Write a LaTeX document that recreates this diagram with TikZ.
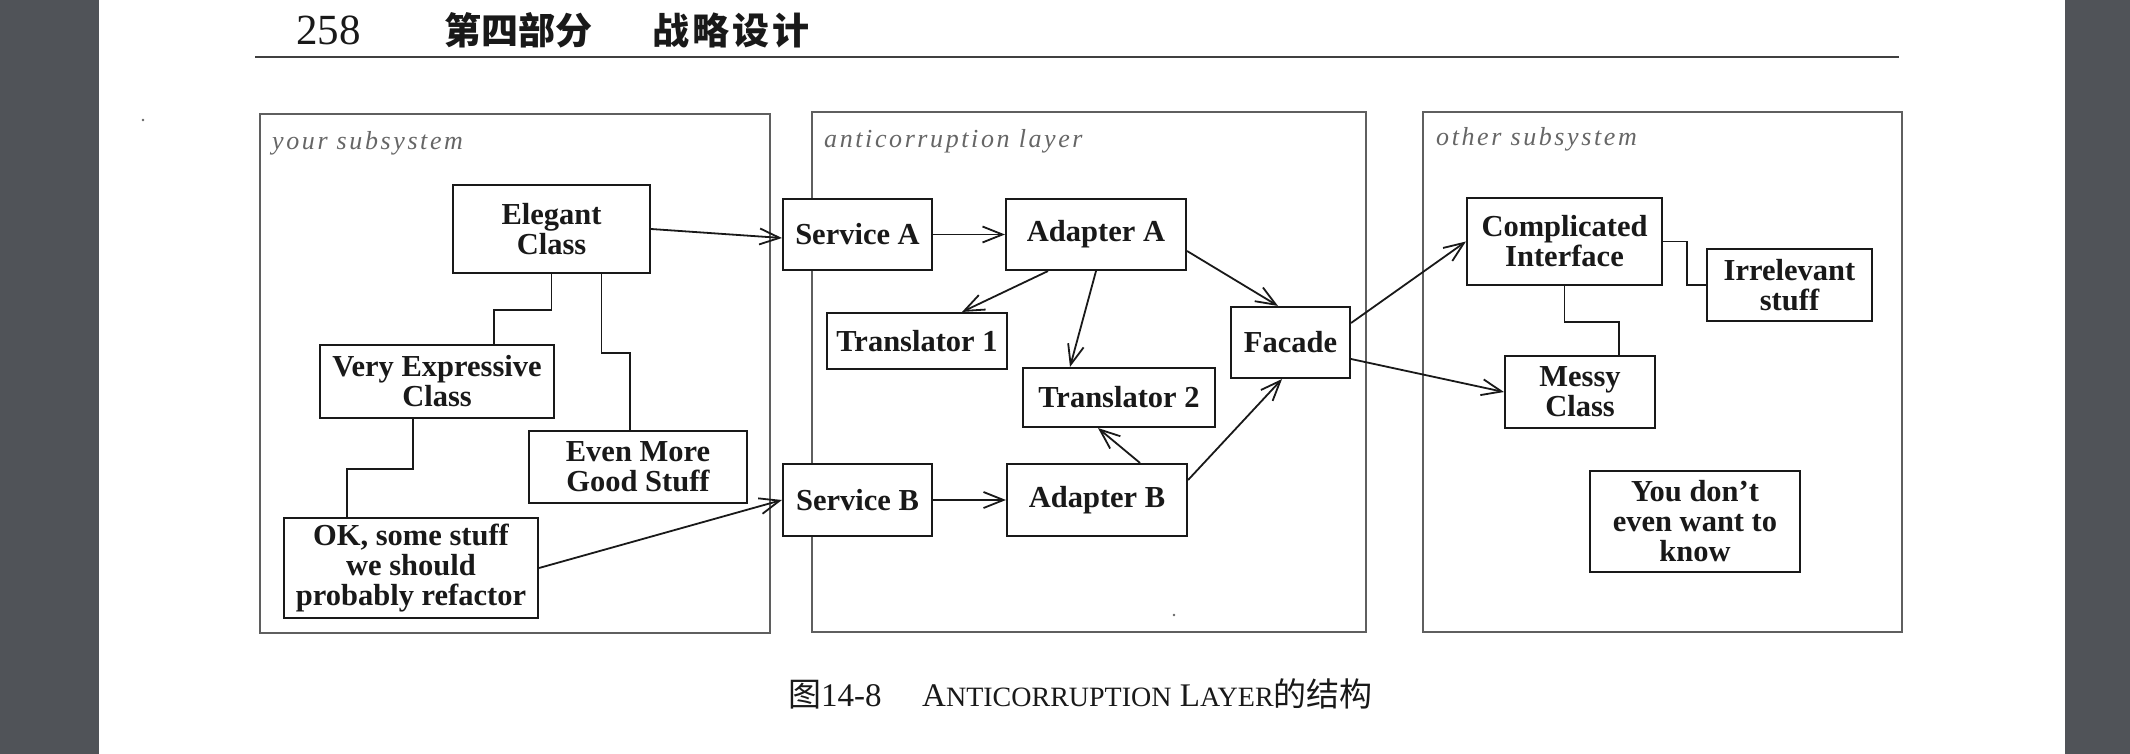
\documentclass[tikz,border=0pt]{standalone}
\usepackage{fontspec}
\setmainfont{Liberation Serif}
\newfontfamily\cjk{Noto Sans CJK SC}
\newfontfamily\lblfont[LetterSpace=10]{Liberation Serif}
\usetikzlibrary{arrows.meta}
\definecolor{pagegray}{RGB}{80,83,88}
\definecolor{ink}{RGB}{25,25,25}
\definecolor{framec}{RGB}{95,95,95}
\begin{document}
\begin{tikzpicture}[x=1pt,y=-1pt,
  box/.style={draw=ink, line width=2.1pt, fill=white, align=center, inner sep=0pt,
    font=\bfseries\fontsize{30.5}{30}\selectfont, text=ink},
  conn/.style={draw=ink, line width=1.8pt},
  arr/.style={conn, -{Straight Barb[length=20pt,width=16pt]}},
  container/.style={draw=framec, line width=2.4pt},
  lbl/.style={anchor=base west, inner sep=0pt, font=\lblfont\itshape\fontsize{26}{26}\selectfont, text=black!60},
  plain/.style={anchor=base west, inner sep=0pt, text=ink},
]
\useasboundingbox (0,0) rectangle (2130,754);
\fill[white] (0,0) rectangle (2130,754);
\fill[pagegray] (0,0) rectangle (99,754);
\fill[pagegray] (2065,0) rectangle (2130,754);

% header
\node[plain, font=\fontsize{43}{43}\selectfont] (pnum) at (296,45) {258};
\node[plain, font=\cjk\bfseries\fontsize{37}{37}\selectfont] (part) at (444,45) {第四部分};
\node[plain, font=\cjk\bfseries\fontsize{37}{37}\selectfont] (chap) at (652,45) {战\hspace{3pt}略\hspace{3pt}设\hspace{3pt}计};
\draw[line width=2.6pt, black!75] (255,57) -- (1899,57);

% containers
\draw[container] (260,114) rectangle (770,633);
\draw[container] (812,112) rectangle (1366,632);
\draw[container] (1423,112) rectangle (1902,632);
\node[lbl] (lyour) at (272,150) {your subsystem};
\node[lbl] (lanti) at (824,148) {anticorruption layer};
\node[lbl] (lother) at (1436,146) {other subsystem};

% specks
\fill[black!60] (143,120) circle (1.3);
\fill[black!60] (1174,615) circle (1.3);

% left subsystem
\node[box, minimum width=197pt, minimum height=88pt] (elegant) at (551.5,229) {Elegant\\Class};
\node[box, minimum width=234pt, minimum height=73pt] (vec) at (437,381.5) {Very Expressive\\Class};
\node[box, minimum width=218pt, minimum height=72pt] (emgs) at (638,467) {Even More\\Good Stuff};
\node[box, minimum width=254pt, minimum height=100pt] (ok) at (411,568) {OK, some stuff\\we should\\probably refactor};

% anticorruption layer
\node[box, minimum width=149pt, minimum height=71pt] (servA) at (857.5,234.5) {Service A};
\node[box, minimum width=180pt, minimum height=71pt] (adaA) at (1096,234.5) {Adapter A};
\node[box, minimum width=180pt, minimum height=56pt] (tr1) at (917,341) {Translator 1};
\node[box, minimum width=192pt, minimum height=59pt] (tr2) at (1119,397.5) {Translator 2};
\node[box, minimum width=119pt, minimum height=71pt] (facade) at (1290.5,342.5) {Facade};
\node[box, minimum width=149pt, minimum height=72pt] (servB) at (857.5,500) {Service B};
\node[box, minimum width=180pt, minimum height=72pt] (adaB) at (1097,500) {Adapter B};

% other subsystem
\node[box, minimum width=195pt, minimum height=87pt] (compl) at (1564.5,241.5) {Complicated\\Interface};
\node[box, minimum width=165pt, minimum height=72pt] (irr) at (1789.5,285) {Irrelevant\\stuff};
\node[box, minimum width=150pt, minimum height=72pt] (messy) at (1580,392) {Messy\\Class};
\node[box, minimum width=210pt, minimum height=101pt] (ydk) at (1695,521.5) {You don’t\\even want to\\know};

% associations
\draw[conn] (elegant.south) -- ++(0,36) -| ([xshift=57pt]vec.north);
\draw[conn] ([xshift=50pt]elegant.south) -- ++(0,79) -| ([xshift=-8pt]emgs.north);
\draw[conn] ([xshift=-24pt]vec.south) -- ++(0,50) -| ([xshift=-64pt]ok.north);
\draw[conn] (compl.east) -- ++(24,0) |- (irr.west);
\draw[conn] (compl.south) -- ++(0,36) -| ([xshift=39pt]messy.north);

% navigations
\draw[arr] (elegant.east) -- ([yshift=-3.5pt]servA.west);
\draw[arr] (ok.east) -- (servB.west);
\draw[arr] (servA.east) -- (adaA.west);
\draw[arr] (servB.east) -- (adaB.west);
\draw[arr] ([xshift=-48pt]adaA.south) -- ([xshift=45pt]tr1.north);
\draw[arr] (adaA.south) -- ([xshift=-49pt]tr2.north);
\draw[arr] ([xshift=43pt]adaB.north) -- ([xshift=-21pt]tr2.south);
\draw[arr] ([yshift=-16.5pt]adaA.east) -- ([xshift=-12.5pt]facade.north);
\draw[arr] ([yshift=20pt]adaB.east) -- ([xshift=-8.5pt]facade.south);
\draw[arr] ([yshift=19.5pt]facade.east) -- (compl.west);
\draw[arr] ([yshift=-16.5pt]facade.east) -- (messy.west);

% caption
\node[plain] (capnum) at (788,706) {{\cjk\fontsize{33}{33}\selectfont 图}{\fontsize{33}{33}\selectfont 14-8}};
\node[plain] (captext) at (922,706) {\fontsize{33}{33}\selectfont A{\fontsize{28}{28}\selectfont NTICORRUPTION} L{\fontsize{28}{28}\selectfont AYER}{\cjk 的结构}};
\end{tikzpicture}
\end{document}
